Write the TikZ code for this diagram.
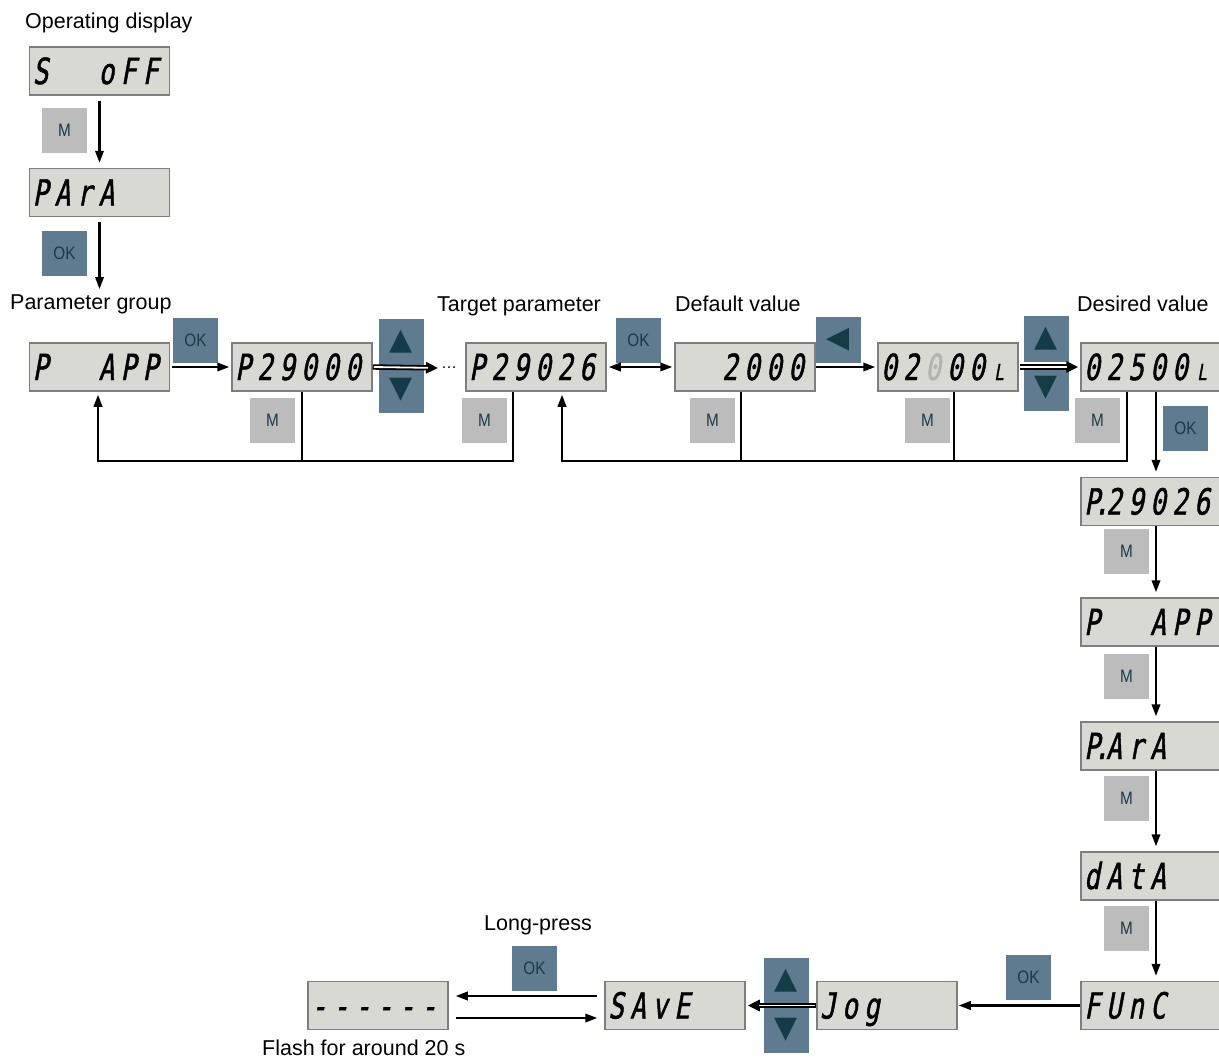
\documentclass[tikz,border=0pt]{standalone}
\usepackage{fontspec}
\setmainfont{Liberation Sans}
\newfontfamily\segfont[FakeStretch=0.72,FakeSlant=0.18,FakeBold=1.2]{DejaVu Sans Mono}
\newfontfamily\btnfont[FakeStretch=0.85]{Liberation Sans}
\newfontfamily\symfont{DejaVu Sans}
\usetikzlibrary{arrows.meta,calc}
\definecolor{dispfill}{HTML}{D8D9D3}
\definecolor{displine}{HTML}{7E7F7D}
\definecolor{mfill}{HTML}{BBBCBB}
\definecolor{okfill}{HTML}{5F7B8F}
\definecolor{btntext}{HTML}{1A3A47}
\definecolor{tri}{HTML}{143B46}
\definecolor{dimseg}{HTML}{B3B4B0}
\newcommand\dc[1]{\makebox[22pt][c]{#1}}
\newcommand\smallL{{\fontsize{22}{22}\selectfont L}}
\newcommand\seg[1]{\makebox[132pt][l]{\kern-4pt#1}}
\begin{document}
\begin{tikzpicture}[x=1pt,y=-1pt,
  disp/.style={draw=displine, fill=dispfill, line width=1.5pt, minimum width=140pt,
    minimum height=48pt, inner sep=0pt, text height=26pt, text depth=0pt,
    font=\segfont\fontsize{36}{36}\selectfont},
  btn/.style={minimum width=45pt, minimum height=45pt, inner sep=0pt, text=btntext,
    font=\btnfont\fontsize{18}{18}\selectfont},
  mbtn/.style={btn, fill=mfill},
  okbtn/.style={btn, fill=okfill},
  arrbtn/.style={okbtn, text=tri, minimum height=46pt, font=\symfont\fontsize{30}{30}\selectfont},
  lbl/.style={inner sep=0pt, font=\fontsize{21.5}{25}\selectfont},
  conn/.style={line width=2.1pt},
  arr/.style={conn, -{Triangle[length=12pt,width=8.5pt]}},
  arrb/.style={conn, {Triangle[length=12pt,width=8.5pt]}-{Triangle[length=12pt,width=8.5pt]}},
  dblout/.style={line width=5.4pt, -{Triangle[length=12pt,width=11pt]}},
  dblin/.style={white, line width=1.8pt, shorten >=13pt, shorten <=1pt}
]
\useasboundingbox (0,0) rectangle (1219,1060);

% ---- labels
\node[lbl,anchor=base west] (tOp) at (25,28) {Operating display};
\node[lbl,anchor=base west] (tPg) at (10,309) {Parameter group};
\node[lbl,anchor=base west] (tTp) at (437,311) {Target parameter};
\node[lbl,anchor=base west] (tDv) at (675,311) {Default value};
\node[lbl,anchor=base west] (tDs) at (1077,311) {Desired value};
\node[lbl,anchor=base] (tLp) at (538,930) {Long-press};
\node[lbl,anchor=base west] (tFl) at (262,1055) {Flash for around 20 s};

% ---- buttons
\node[mbtn] (m1) at (64.5,130) {M};
\node[okbtn] (k1) at (64.5,253.5) {OK};
\node[okbtn] (k2) at (195.5,340) {OK};
\node[arrbtn] (u1) at (401.5,341.5) {▲};
\node[arrbtn] (w1) at (401.5,390) {▼};
\node[mbtn] (m2) at (272.5,420) {M};
\node[mbtn] (m3) at (484.5,420) {M};
\node[okbtn] (k3) at (638.5,340) {OK};
\node[arrbtn] (l1) at (838.5,340) {◀};
\node[mbtn] (m4) at (712.5,420) {M};
\node[mbtn] (m5) at (927.5,420) {M};
\node[arrbtn] (u2) at (1046.5,338.5) {▲};
\node[arrbtn] (w2) at (1046.5,388) {▼};
\node[mbtn] (m6) at (1097.5,420) {M};
\node[okbtn] (k4) at (1185.5,428.5) {OK};
\node[mbtn] (m7) at (1126.5,551) {M};
\node[mbtn] (m8) at (1126.5,676) {M};
\node[mbtn] (m9) at (1126.5,798) {M};
\node[mbtn] (m10) at (1126.5,928) {M};
\node[okbtn] (k5) at (1028.5,977) {OK};
\node[arrbtn] (u3) at (786,980.5) {▲};
\node[arrbtn] (w3) at (786,1030) {▼};
\node[okbtn] (k6) at (534.5,968.5) {OK};

% ---- displays
\node[disp] (dA) at (99.5,71) {\seg{\dc{S}\dc{}\dc{}\dc{o}\dc{F}\dc{F}}};
\node[disp] (dB) at (99.5,192.5) {\seg{\dc{P}\dc{A}\dc{r}\dc{A}}};
\node[disp] (dC) at (99.5,367) {\seg{\dc{P}\dc{}\dc{}\dc{A}\dc{P}\dc{P}}};
\node[disp] (dD) at (302,367) {\seg{\dc{P}\dc{2}\dc{9}\dc{0}\dc{0}\dc{0}}};
\node[disp] (dE) at (536,367) {\seg{\dc{P}\dc{2}\dc{9}\dc{0}\dc{2}\dc{6}}};
\node[disp] (dF) at (745,367) {\seg{\dc{}\dc{}\dc{2}\dc{0}\dc{0}\dc{0}}};
\node[disp] (dG) at (948,367) {\seg{\dc{0}\dc{2}\dc{\textcolor{dimseg}{0}}\dc{0}\dc{0}\dc{\smallL}}};
\node[disp] (dH) at (1151,367) {\seg{\dc{0}\dc{2}\dc{5}\dc{0}\dc{0}\dc{\smallL}}};
\node[disp] (dI) at (1151,501.5) {\seg{\dc{P\rlap{\kern-6pt.}}\dc{2}\dc{9}\dc{0}\dc{2}\dc{6}}};
\node[disp] (dJ) at (1151,622) {\seg{\dc{P}\dc{}\dc{}\dc{A}\dc{P}\dc{P}}};
\node[disp] (dK) at (1151,746) {\seg{\dc{P\rlap{\kern-6pt.}}\dc{A}\dc{r}\dc{A}}};
\node[disp] (dL) at (1151,876) {\seg{\dc{d}\dc{A}\dc{t}\dc{A}}};
\node[disp] (dM) at (1151,1005.5) {\seg{\dc{F}\dc{U}\dc{n}\dc{C}}};
\node[disp] (dN) at (887,1005.5) {\seg{\dc{J}\dc{o}\dc{g}}};
\node[disp] (dO) at (675,1005.5) {\seg{\dc{S}\dc{A}\dc{v}\dc{E}}};
\node[disp] (dP) at (378,1005.5) {\seg{\dc{-}\dc{-}\dc{-}\dc{-}\dc{-}\dc{-}}};

\node[inner sep=0pt, font=\fontsize{16}{16}\selectfont, anchor=west] (dots) at (441,368) {…};

% ---- connectors, left column
\draw[arr, shorten <=5pt, shorten >=5pt] (dA.south) -- (dB.north);
\draw[arr, shorten <=5pt, shorten >=5pt] (dB.south) -- (dC.north |- tPg.north);

% ---- parameter row
\draw[arr, shorten <=2pt, shorten >=2pt] (dC.east) -- (dD.west);
\draw[dblout, shorten >=3pt] (dD.east) -- (dots.west);
\draw[dblin] (dD.east) -- (dots.west);
\draw[arrb, shorten <=2pt, shorten >=2pt] (dE.east) -- (dF.west);
\draw[arr, shorten >=2pt] (dF.east) -- (dG.west);
\draw[dblout, shorten <=1pt, shorten >=2pt] (dG.east) -- (dH.west);
\draw[dblin] (dG.east) -- (dH.west);

% ---- feedback loops
\coordinate (fb) at (0,461);
\coordinate (e1) at ($(dE.south)+(26,0)$);
\coordinate (c1) at ($(dC.south)+(-1.5,0)$);
\draw[conn] (dD.south) -- (dD.south |- fb);
\draw[arr, shorten >=3pt] ($(dE.south)+(-23,0)$) |- (fb -| c1) -- (c1);
\draw[conn] ($(dF.south)+(-4,0)$) -- ($(dF.south)+(-4,70)$);
\draw[conn] ($(dG.south)+(6,0)$) -- ($(dG.south)+(6,70)$);
\draw[arr, shorten >=3pt] ($(dH.south)+(-24,0)$) |- (fb -| e1) -- (e1);

% ---- right column
\draw[arr, shorten >=5pt] ($(dH.south)+(5,0)$) -- ($(dI.north)+(5,0)$);
\draw[arr, shorten >=5pt] ($(dI.south)+(5,0)$) -- ($(dJ.north)+(5,0)$);
\draw[arr, shorten >=5pt] ($(dJ.south)+(5,0)$) -- ($(dK.north)+(5,0)$);
\draw[arr, shorten >=5pt] ($(dK.south)+(5,0)$) -- ($(dL.north)+(5,0)$);
\draw[arr, shorten >=5pt] ($(dL.south)+(5,0)$) -- ($(dM.north)+(5,0)$);

% ---- bottom row
\draw[arr, shorten >=1pt] (dM.west) -- (dN.east);
\draw[dblout, shorten >=2pt] (dN.west) -- (dO.east);
\draw[dblin] (dN.west) -- (dO.east);
\draw[arr, shorten <=7pt, shorten >=7pt] ($(dO.west)+(0,-9.5)$) -- ($(dP.east)+(0,-9.5)$);
\draw[arr, shorten <=7pt, shorten >=7pt] ($(dP.east)+(0,12.5)$) -- ($(dO.west)+(0,12.5)$);
\end{tikzpicture}
\end{document}
